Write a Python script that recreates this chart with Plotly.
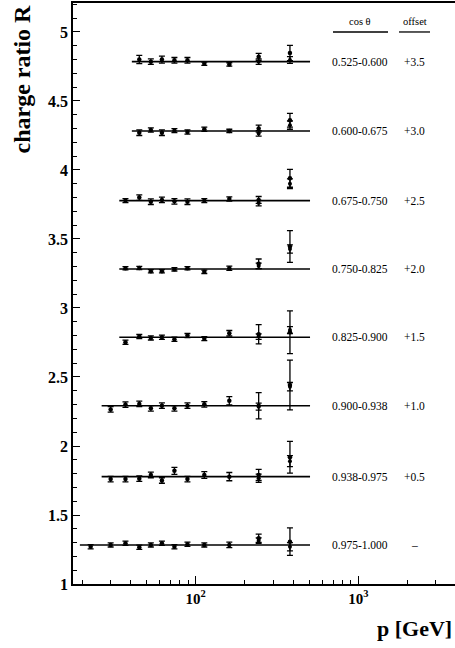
import math
import plotly.graph_objects as go

# ---------------- data ----------------
p_bins = [22.6, 30, 37, 45, 53, 62, 74, 89, 113, 161, 244, 380]
p_second = [244, 380]

cos_bins = ["0.525-0.600", "0.600-0.675", "0.675-0.750", "0.750-0.825",
            "0.825-0.900", "0.900-0.938", "0.938-0.975", "0.975-1.000"]
offsets = [3.5, 3.0, 2.5, 2.0, 1.5, 1.0, 0.5, 0.0]
offset_labels = ["+3.5", "+3.0", "+2.5", "+2.0", "+1.5", "+1.0", "+0.5", "\u2013"]
fit_R = [1.285, 1.283, 1.278, 1.283, 1.288, 1.292, 1.278, 1.283]
line_pmin = [40.5, 40.5, 33.9, 33.9, 33.9, 26.4, 26.4, 19.4]
line_pmax = [505, 505, 505, 505, 505, 505, 505, 505]

R_0525 = [None, None, None, 1.300, 1.285, 1.300, 1.295, 1.295, 1.270, 1.265, 1.320, 1.348]
E_0525 = [None, None, None, 0.030, 0.020, 0.025, 0.020, 0.020, 0.012, 0.012, 0.025, 0.055]
R_0600 = [None, None, None, 1.270, 1.290, 1.270, 1.285, 1.275, 1.295, 1.283, 1.300, 1.360]
E_0600 = [None, None, None, 0.020, 0.015, 0.020, 0.015, 0.015, 0.015, 0.012, 0.025, 0.050]
R_0675 = [None, None, 1.278, 1.300, 1.270, 1.283, 1.273, 1.270, 1.278, 1.290, 1.283, 1.440]
E_0675 = [None, None, 0.015, 0.020, 0.020, 0.020, 0.020, 0.020, 0.015, 0.015, 0.025, 0.065]
R_0750 = [None, None, 1.288, 1.290, 1.266, 1.266, 1.280, 1.288, 1.262, 1.288, 1.320, 1.445]
E_0750 = [None, None, 0.012, 0.012, 0.012, 0.012, 0.012, 0.012, 0.012, 0.015, 0.035, 0.115]
R_0825 = [None, None, 1.252, 1.293, 1.283, 1.288, 1.273, 1.300, 1.278, 1.317, 1.310, 1.324]
E_0825 = [None, None, 0.015, 0.015, 0.015, 0.015, 0.015, 0.015, 0.015, 0.020, 0.070, 0.155]
R_0900 = [None, 1.265, 1.300, 1.305, 1.273, 1.292, 1.273, 1.292, 1.302, 1.328, 1.292, 1.442]
E_0900 = [None, 0.020, 0.020, 0.020, 0.020, 0.020, 0.020, 0.020, 0.020, 0.030, 0.095, 0.180]
R_0938 = [None, 1.260, 1.260, 1.263, 1.290, 1.250, 1.320, 1.260, 1.290, 1.278, 1.290, 1.418]
E_0938 = [None, 0.020, 0.020, 0.020, 0.020, 0.020, 0.025, 0.020, 0.025, 0.030, 0.040, 0.115]
R_0975 = [1.270, 1.283, 1.295, 1.266, 1.283, 1.295, 1.270, 1.288, 1.283, 1.283, 1.331, 1.307]
E_0975 = [0.015, 0.015, 0.015, 0.015, 0.015, 0.015, 0.015, 0.015, 0.015, 0.020, 0.030, 0.100]

# second measurements at the two highest momenta
R2_0525 = [1.285, 1.297]; E2_0525 = [0.020, 0.025]
R2_0600 = [1.265, 1.325]; E2_0600 = [0.020, 0.030]
R2_0675 = [1.260, 1.400]; E2_0675 = [0.020, 0.035]
R2_0750 = [1.305, 1.428]; E2_0750 = [0.020, 0.030]
R2_0825 = [1.293, 1.340]; E2_0825 = [0.020, 0.025]
R2_0900 = [1.285, 1.430]; E2_0900 = [0.025, 0.030]
R2_0938 = [1.266, 1.390]; E2_0938 = [0.030, 0.040]
R2_0975 = [1.314, 1.270]; E2_0975 = [0.020, 0.030]

rows_R = [R_0525, R_0600, R_0675, R_0750, R_0825, R_0900, R_0938, R_0975]
rows_E = [E_0525, E_0600, E_0675, E_0750, E_0825, E_0900, E_0938, E_0975]
rows_R2 = [R2_0525, R2_0600, R2_0675, R2_0750, R2_0825, R2_0900, R2_0938, R2_0975]
rows_E2 = [E2_0525, E2_0600, E2_0675, E2_0750, E2_0825, E2_0900, E2_0938, E2_0975]

x_major_vals = [100, 1000]
x_major_text = ["10<sup>2</sup>", "10<sup>3</sup>"]
x_minor_vals = [20, 30, 40, 50, 60, 70, 80, 90, 200, 300, 400, 500, 600, 700, 800, 900, 2000, 3000]

# ---------------- figure ----------------
W, H = 455, 648
ML, MR, MT, MB = 73, 0, 3, 64
PW = W - ML - MR
PH = H - MT - MB


def xpaper(px):
    return (px - ML) / PW


def ypaper(py):
    return (H - MB - py) / PH


SERIF = "Liberation Serif"
fig = go.Figure()

for i in range(len(cos_bins)):
    off = offsets[i]
    # fit line
    fig.add_trace(go.Scatter(
        x=[line_pmin[i], line_pmax[i]], y=[fit_R[i] + off, fit_R[i] + off],
        mode="lines", line=dict(color="black", width=1.6),
        showlegend=False, hoverinfo="skip"))
    xs, ys, es = [], [], []
    for p, r, e in zip(p_bins, rows_R[i], rows_E[i]):
        if r is None:
            continue
        xs.append(p); ys.append(r + off); es.append(e)
    fig.add_trace(go.Scatter(
        x=xs, y=ys, mode="markers",
        marker=dict(color="black", size=4.5, symbol="circle"),
        error_y=dict(type="data", array=es, visible=True, color="black",
                     thickness=1.3, width=3),
        showlegend=False))
    fig.add_trace(go.Scatter(
        x=p_second, y=[r + off for r in rows_R2[i]], mode="markers",
        marker=dict(color="black", size=4, symbol="circle"),
        error_y=dict(type="data", array=rows_E2[i], visible=True, color="black",
                     thickness=1.3, width=3),
        showlegend=False))
    # labels
    fig.add_annotation(x=xpaper(360), xref="paper", y=fit_R[i] + off, yref="y",
                       text=cos_bins[i], showarrow=False, xanchor="center", yanchor="middle",
                       font=dict(family=SERIF, size=11.5, color="black"))
    fig.add_annotation(x=xpaper(414), xref="paper", y=fit_R[i] + off, yref="y",
                       text=offset_labels[i], showarrow=False, xanchor="center", yanchor="middle",
                       font=dict(family=SERIF, size=11.5, color="black"))

# headers
fig.add_annotation(x=xpaper(360), xref="paper", y=5.075, yref="y", text="cos \u03b8",
                   showarrow=False, xanchor="center", yanchor="middle",
                   font=dict(family=SERIF, size=10.5, color="black"))
fig.add_annotation(x=xpaper(415), xref="paper", y=5.075, yref="y", text="offset",
                   showarrow=False, xanchor="center", yanchor="middle",
                   font=dict(family=SERIF, size=10.5, color="black"))
fig.add_shape(type="line", xref="paper", yref="y", x0=xpaper(333), x1=xpaper(388),
              y0=5.0, y1=5.0, line=dict(color="black", width=1.3))
fig.add_shape(type="line", xref="paper", yref="y", x0=xpaper(399), x1=xpaper(430),
              y0=5.0, y1=5.0, line=dict(color="black", width=1.3))

# axis titles
fig.add_annotation(x=xpaper(21), xref="paper", y=1.0, yref="paper", text="<b>charge ratio R</b>",
                   textangle=-90, showarrow=False, xanchor="center", yanchor="top",
                   font=dict(family=SERIF, size=24, color="black"))
fig.add_annotation(x=xpaper(454), xref="paper", y=ypaper(628), yref="paper", text="<b>p [GeV]</b>",
                   showarrow=False, xanchor="right", yanchor="middle",
                   font=dict(family=SERIF, size=22, color="black"))

x_lo = math.log10(17.6)
x_hi = x_lo + PW / 162.6
fig.update_layout(
    template="none",
    width=W, height=H,
    margin=dict(l=ML, r=MR, t=MT, b=MB, pad=0, autoexpand=False),
    paper_bgcolor="white", plot_bgcolor="white",
    showlegend=False,
    xaxis=dict(type="log", range=[x_lo, x_hi], showgrid=False, zeroline=False,
               automargin=False,
               showline=True, linecolor="black", linewidth=1.5, mirror=True,
               ticks="inside", ticklen=8, tickwidth=1.2, tickcolor="black",
               tickmode="array", tickvals=x_major_vals, ticktext=x_major_text,
               tickfont=dict(family=SERIF, size=15, color="black", weight="bold"),
               minor=dict(tickmode="array", tickvals=x_minor_vals, ticks="inside",
                          ticklen=4, tickwidth=1, tickcolor="black", showgrid=False)),
    yaxis=dict(range=[1, 5.21], showgrid=False, zeroline=False,
               automargin=False,
               showline=True, linecolor="black", linewidth=1.5, mirror=False,
               ticks="inside", ticklen=7, tickwidth=1.2, tickcolor="black",
               tick0=1, dtick=0.5,
               tickfont=dict(family=SERIF, size=16, color="black", weight="bold"),
               minor=dict(dtick=0.1, tick0=1, ticks="inside", ticklen=4, tickwidth=1,
                          tickcolor="black", showgrid=False)),
)

fig.write_html("out.html",
               config={"displayModeBar": False},
               post_script="document.body.style.margin='0px';document.body.style.overflow='hidden';")
